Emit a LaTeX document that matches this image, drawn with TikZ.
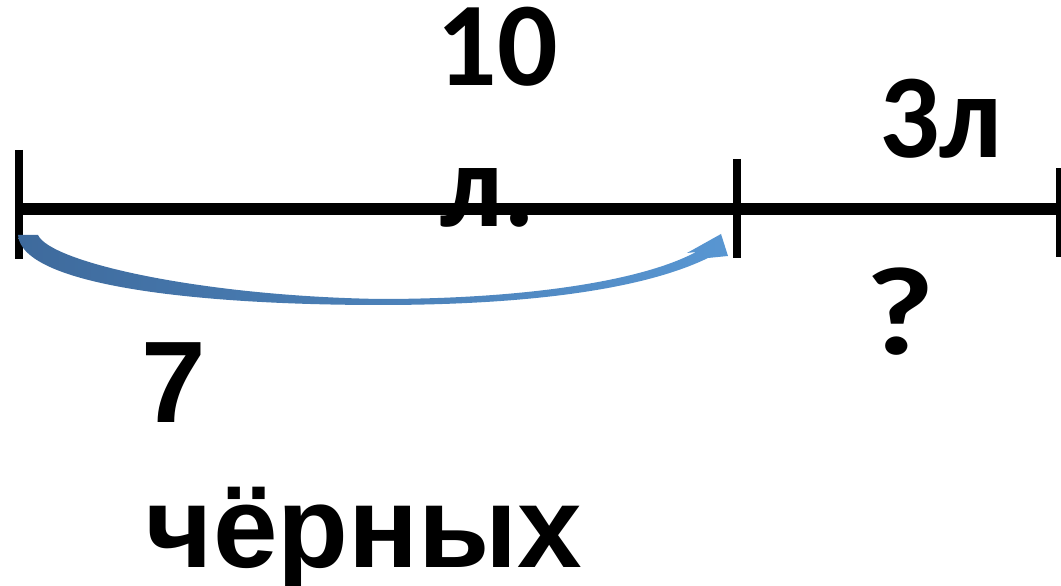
\documentclass[tikz,border=0pt]{standalone}
\usepackage{fontspec}
\setmainfont{Carlito}
\newfontfamily\arialfont{Liberation Sans}
\definecolor{arrowdark}{RGB}{62,106,156}
\definecolor{arrowlight}{RGB}{88,150,210}
\usetikzlibrary{positioning}

\tikzset{
	segline/.style={line width=3.4pt},
	tickline/.style={line width=2.3pt},
	numlabel/.style={font=\fontsize{34}{41}\selectfont\bfseries, inner sep=0pt, anchor=base},
	wordlabel/.style={font=\arialfont\fontsize{33}{40}\selectfont\bfseries, inner sep=0pt, anchor=base west},
}

\begin{document}
\begin{tikzpicture}[x=0.01cm,y=-0.01cm]
	\useasboundingbox (0,0) rectangle (1061,586);
	
	% segment and its ticks
	\coordinate (start)  at (19,209);
	\coordinate (mid)    at (737,209);
	\coordinate (finish) at (1061,209);
	\draw[segline] (start) -- (finish);
	\draw[tickline] (19,150)   -- (19,259);
	\draw[tickline] (737,159)  -- (737,258);
	\draw[tickline] (1060,168) -- (1060,257);
	
	% curved arrow under the first part
	\shade[left color=arrowdark, right color=arrowlight]
		(18,235) -- (38,235) .. controls (50,262) and (200,296) .. (380,299)
		.. controls (520,299) and (640,282) .. (696,252)
		-- (687,253) -- (721,234) -- (728,256) -- (708,258)
		.. controls (640,291) and (520,305) .. (380,305)
		.. controls (200,305) and (22,286) .. (18,235) -- cycle;
	
	% labels
	\node[numlabel] (ten)      at (497,86)  {10};
	\node[numlabel] (litres)   at (488,227) {л.};
	\node[numlabel] (three)    at (941,158) {3л};
	\node[numlabel,xscale=1.25,yscale=1.05] (question) at (900,355) {?};
	\node[wordlabel] (seven)   at (141,423) {7};
	\node[wordlabel] (black)   at (145,568) {чёрных};
\end{tikzpicture}
\end{document}
